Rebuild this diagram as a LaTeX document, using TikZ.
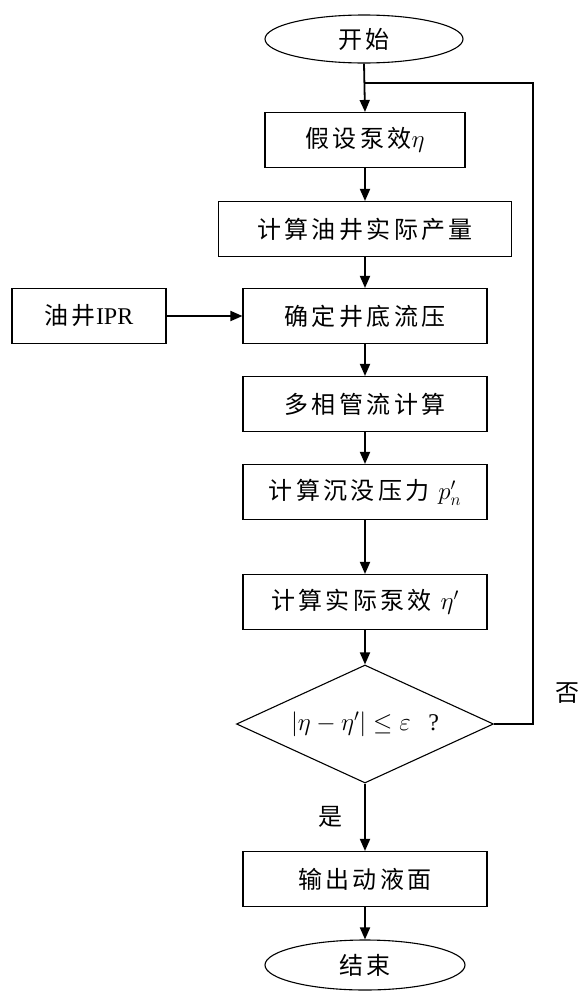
\documentclass[tikz,border=0pt]{standalone}
\usepackage{fontspec}
\setmainfont{Liberation Serif}
\newfontfamily\cjk[LetterSpace=14]{Noto Sans CJK SC}
\usetikzlibrary{shapes.geometric,arrows.meta}
\begin{document}
\begin{tikzpicture}[x=1pt,y=-1pt,
  txt/.style={font=\fontsize{24}{28}\selectfont\cjk},
  box/.style={draw, line width=1.1pt, minimum height=55pt, inner sep=0pt, txt},
  oval/.style={draw, ellipse, line width=1.1pt, inner sep=0pt, txt},
  decision/.style={draw, diamond, aspect=2.18, line width=1.1pt, inner sep=0pt, minimum width=257pt, minimum height=118pt, txt},
  flow/.style={line width=1.8pt, -{Triangle[length=12pt,width=10pt]}},
  loopline/.style={line width=1.8pt}]
\useasboundingbox (0,0) rectangle (583,991);
\node[oval, minimum width=198pt, minimum height=48pt] (start) at (364,39) {开始};
\node[box, minimum width=200pt] (b1) at (365,140) {假设泵效$\eta$};
\node[box, minimum width=293pt] (b2) at (365,229) {计算油井实际产量};
\node[box, minimum width=154pt] (ipr) at (89,316) {油井{\rmfamily IPR}};
\node[box, minimum width=244pt] (b3) at (365,316) {确定井底流压};
\node[box, minimum width=244pt] (b4) at (365,404) {多相管流计算};
\node[box, minimum width=244pt] (b5) at (365,492) {计算沉没压力 $p_n'$};
\node[box, minimum width=244pt] (b6) at (365,602) {计算实际泵效 $\eta'$\hspace{18pt}};
\node[decision] (dec) at (365,724) {$\left|\eta-\eta'\right|\le\varepsilon$\ \ {\rmfamily ?}};
\node[box, minimum width=244pt] (b7) at (365,879) {输出动液面};
\node[oval, minimum width=200pt, minimum height=50pt] (stop) at (365,965) {结束};
\node[txt] (no) at (567,693) {否};
\node[txt] (yes) at (330,817) {是};
\coordinate (j) at (365,83);
\coordinate (c1) at (533,724);
\coordinate (c2) at (533,83);
\draw[flow] (start.south) -- (b1.north);
\draw[loopline] (dec.east) -- (c1) -- (c2) -- (j);
\draw[flow] (b1) -- (b2);
\draw[flow] (b2) -- (b3);
\draw[flow] (ipr) -- (b3);
\draw[flow] (b3) -- (b4);
\draw[flow] (b4) -- (b5);
\draw[flow] (b5) -- (b6);
\draw[flow] (b6) -- (dec);
\draw[flow] (dec) -- (b7);
\draw[flow] (b7) -- (stop);
\end{tikzpicture}
\end{document}
